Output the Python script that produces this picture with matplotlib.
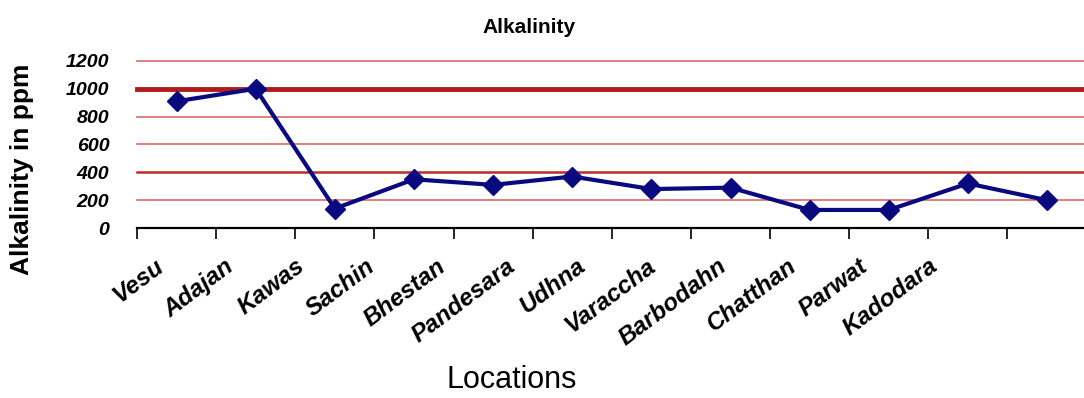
import numpy as np
import matplotlib
matplotlib.use('Agg')
from matplotlib import pyplot as plt

# Alkalinity readings at each sampling location
locations = ['Vesu', 'Adajan', 'Kawas', 'Sachin', 'Bhestan', 'Pandesara', 'Udhna',
             'Varaccha', 'Barbodahn', 'Chatthan', 'Parwat', 'Kadodara']
alkalinity = [910, 1000, 140, 350, 310, 370, 280, 290, 130, 130, 320, 200]
y_ticks = [0, 200, 400, 600, 800, 1000, 1200]

plt.rcParams['font.family'] = ['Liberation Sans', 'DejaVu Sans']

fig = plt.figure(figsize=(10.84, 3.98), dpi=100)
ax = fig.add_axes([0.1264, 0.427, 0.876, 0.42])

x = np.arange(len(locations))

# Red horizontal guide lines, 1000 and 400 drawn heavier
for v in y_ticks[1:]:
    if v == 1000:
        ax.axhline(v, color='#b01c1c', lw=3.5, zorder=1, clip_on=False)
    elif v == 400:
        ax.axhline(v, color='#c02a2a', lw=1.8, zorder=1, clip_on=False)
    else:
        ax.axhline(v, color='#d96a6a', lw=1.2, zorder=1, clip_on=False)

ax.plot(x, alkalinity, color='#0a0a80', lw=3, marker='D', markersize=10,
        markeredgecolor='#0a0a80', zorder=3)

ax.set_xlim(-0.5, len(locations) - 0.5)
ax.set_ylim(0, 1200)
ax.set_yticks(y_ticks)
ax.set_yticklabels([str(v) for v in y_ticks], fontsize=14, fontweight='bold',
                   fontstyle='italic')
ax.tick_params(axis='y', length=0, pad=20)

# tick marks sit between categories
ax.set_xticks(np.arange(len(locations) + 1) - 0.5)
ax.set_xticklabels([])
ax.tick_params(axis='x', direction='out', length=8, width=1.2, color='black')

for side in ['top', 'right', 'left']:
    ax.spines[side].set_visible(False)
ax.spines['bottom'].set_linewidth(1.6)

# slanted location names under the axis
for i, name in enumerate(locations):
    ax.text(-0.28 + 0.889 * i, -190, name, rotation=37, rotation_mode='anchor',
            ha='right', va='top', fontsize=17.5, fontstyle='italic',
            fontweight='bold', clip_on=False)

fig.text(0.488, 0.93, 'Alkalinity', ha='center', va='center', fontsize=15,
         fontweight='bold')
fig.text(0.472, 0.045, 'Locations', ha='center', va='center', fontsize=22)
fig.text(0.02, 0.575, 'Alkalinity in ppm', ha='center', va='center', rotation=90,
         fontsize=19, fontweight='bold')

plt.savefig('out.png', dpi=100)
plt.close()
